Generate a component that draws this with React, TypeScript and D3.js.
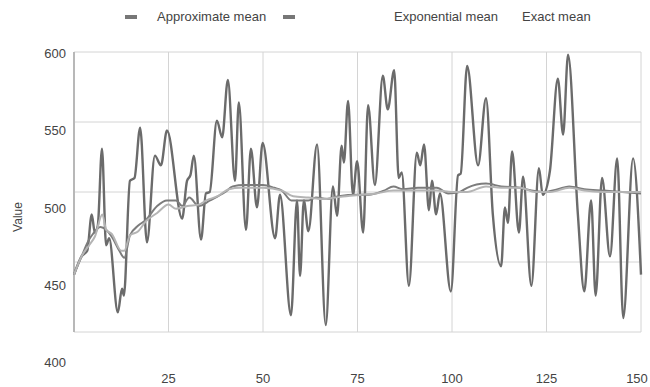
import React from "react";
import * as d3 from "d3";

// noisy series at its turning points
const approxX = [0, 2, 3.5, 4.7, 5.5, 6.3, 7.4, 8.5, 9.3, 11.6, 12.7, 13.2, 14.8, 16, 17.5, 19.3, 21.4, 23, 24.6, 28.6, 29.9, 30.8, 31.7, 33.6, 34.9, 35.9, 37.8, 39.2, 40.7, 42.6, 43.6, 45.5, 46.8, 48.4, 49.9, 53.2, 54.5, 57.4, 59, 59.8, 60.8, 62, 64.3, 66.6, 68.5, 69.6, 70.8, 71.4, 72.5, 73.8, 74.9, 76.5, 77.8, 79.6, 81.7, 83, 84.7, 85.9, 86.7, 88.6, 90.7, 91.6, 92.6, 93.9, 94.7, 95.8, 96.8, 99.7, 101.6, 102.3, 104, 106.9, 109, 110.8, 113, 114, 114.8, 115.9, 117.7, 118.8, 121, 123, 124, 125.9, 128, 129.4, 130.7, 133.3, 135, 136.8, 138, 139.7, 141.8, 143.7, 145.3, 147.9, 150];
const approxV = [441, 454, 458, 484, 471, 476, 531, 462, 467, 414, 431, 426, 508, 510, 546, 464, 526, 519, 544, 481, 508, 512, 526, 466, 499, 500, 551, 539, 580, 508, 564, 473, 531, 489, 535, 467, 498, 412, 494, 440, 494, 472, 534, 405, 504, 483, 533, 521, 565, 498, 522, 471, 562, 505, 583, 559, 587, 510, 514, 433, 528, 519, 534, 487, 508, 484, 499, 429, 512, 513, 590, 519, 567, 484, 447, 489, 478, 529, 471, 511, 433, 517, 498, 515, 581, 541, 598, 484, 429, 494, 426, 510, 454, 524, 410, 524, 441];

const expX = [0, 2, 4, 5, 7, 8.5, 10, 12, 13.3, 14.8, 17, 19, 22, 24.6, 27, 28.6, 30.5, 33, 36, 40, 42, 45, 48, 50, 53, 55, 57.5, 60, 62, 64, 67, 70, 75, 78, 82, 84.5, 87, 91, 96, 99, 102, 104, 109, 113, 118, 121, 124, 128, 131, 135, 140, 145, 150];
const expV = [441, 454, 466, 470, 475, 473, 468, 458, 453, 469, 476, 480, 490, 494, 494, 490, 496, 490, 494, 500, 504, 505, 505, 505, 503, 501, 494, 494, 494, 496, 495, 497, 498, 498, 501, 504, 502, 503, 503, 499, 500, 503, 506, 504, 503, 501, 500, 502, 504, 502, 501, 500, 499];

const exactX = [0, 2, 4, 5.5, 7.5, 8.5, 10, 12.5, 13.3, 14.8, 17, 19, 22, 25, 27, 30, 33, 35, 38, 41, 44, 47, 50, 55, 58, 62, 66, 69, 72, 76, 80, 84.5, 88, 92, 96, 100, 104, 109, 113, 118, 122, 126, 131, 135, 140, 145, 150];
const exactV = [441, 454, 462, 468, 484, 473, 470, 458, 458, 469, 472, 479, 485, 491, 488, 490, 491, 494, 497, 502, 503, 503, 503, 501, 497, 496, 495, 496, 497, 498, 499, 501, 501, 501, 501, 500, 500, 504, 503, 503, 500, 500, 503, 501, 500, 500, 500];

const xTicks = [25, 50, 75, 100, 125, 150];
const yTickLabels = ["600", "550", "500", "450", "400"];
const yGrid = [600, 550, 500, 450, 400];

const App = () => {
  const width = 650;
  const height = 387;
  const left = 74;
  const right = 641;
  const top = 52;
  const bottom = 332;

  const x = d3.scaleLinear().domain([0, 150]).range([left, right]);
  const y = d3.scaleLinear().domain([400, 600]).range([bottom, top]);
  // the value labels sit on their own spacing, not on the grid
  const yLabel = d3.scalePoint().domain(yTickLabels).range([53, 362]);

  const line = (xs: number[], vs: number[]) =>
    d3.line<number>()
      .x((d) => x(xs[d]))
      .y((d) => y(vs[d]))
      .curve(d3.curveMonotoneX)(xs.map((_, i) => i)) || "";

  const font = "'Liberation Sans', Arial, sans-serif";

  return (
    <svg width={width} height={height}
      style={{ position: "absolute", left: 0, top: 0, background: "#fff", fontFamily: font }}>
      {/* legend */}
      <g fontSize={13} fill="#444">
        <rect x={125} y={15} width={12} height={4} fill="#777" />
        <text x={157} y={21}>Approximate mean</text>
        <rect x={283} y={15} width={12} height={4} fill="#777" />
        <text x={394} y={21}>Exponential mean</text>
        <text x={522} y={21}>Exact mean</text>
      </g>

      {/* grid */}
      {yGrid.map((v) => (
        <line key={"h" + v} x1={left} x2={right} y1={y(v)} y2={y(v)} stroke="#d4d4d4" strokeWidth={1} />
      ))}
      {xTicks.map((t) => (
        <line key={"v" + t} x1={x(t)} x2={x(t)} y1={top} y2={bottom} stroke="#d4d4d4" strokeWidth={1} />
      ))}
      <line x1={left} x2={left} y1={top} y2={bottom} stroke="#b8b8b8" strokeWidth={2} />

      {/* series */}
      <path d={line(approxX, approxV)} fill="none" stroke="#6b6b6b" strokeWidth={2.4} strokeLinejoin="round" />
      <path d={line(expX, expV)} fill="none" stroke="#7c7c7c" strokeWidth={2} />
      <path d={line(exactX, exactV)} fill="none" stroke="#b4b4b4" strokeWidth={2} />

      {/* axes text */}
      <g fontSize={13} fill="#444">
        {yTickLabels.map((l) => (
          <text key={l} x={66} y={(yLabel(l) || 0) + 5} textAnchor="end">{l}</text>
        ))}
        {xTicks.map((t) => (
          <text key={t} x={Math.min(x(t), width - 13)} y={383} textAnchor="middle">{t}</text>
        ))}
        <text transform="translate(22,217) rotate(-90)" textAnchor="middle" fontSize={12}>Value</text>
      </g>
    </svg>
  );
};

export default App;
